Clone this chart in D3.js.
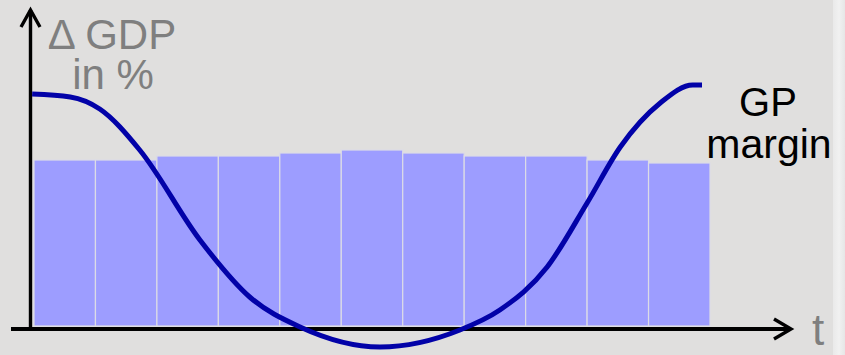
<!DOCTYPE html>
<html>
<head>
<meta charset="utf-8">
<script src="https://cdn.jsdelivr.net/npm/d3@7"></script>
<style>
  html, body { margin: 0; padding: 0; background: #e0dfde; }
  svg { display: block; }
</style>
</head>
<body>
<svg id="chart" width="845" height="355"></svg>
<script>
// Periods along the time axis
const periods = [1, 2, 3, 4, 5, 6, 7, 8, 9, 10, 11];
// Change in GDP per period (%)
const gdpChange = [1.66, 1.66, 1.70, 1.70, 1.73, 1.76, 1.73, 1.70, 1.70, 1.66, 1.63];
// Gross profit margin path: time position and level
const marginT = [-0.03, 0.59, 1.07, 1.72, 2.70, 3.51, 4.33, 5.63, 6.93, 7.58, 8.35, 9.00, 9.54, 10.19, 10.72, 10.87];
const marginV = [2.32, 2.29, 2.17, 1.76, 0.86, 0.29, -0.01, -0.21, -0.04, 0.16, 0.59, 1.23, 1.79, 2.23, 2.41, 2.41];
// Axis captions
const yLabel = ["\u0394 GDP", "in %"];
const xLabel = "t";
const lineLabel = ["GP", "margin"];

const svg = d3.select("#chart");
const W = 845, H = 355;

// Background and lighter border strip on the right
svg.append("rect").attr("width", W).attr("height", H).attr("fill", "#e0dfde");
const defs = svg.append("defs");
const g1 = defs.append("linearGradient").attr("id", "strip").attr("x1", 0).attr("x2", 1);
g1.append("stop").attr("offset", 0).attr("stop-color", "#e9e9e9");
g1.append("stop").attr("offset", 0.5).attr("stop-color", "#f1f1f1");
g1.append("stop").attr("offset", 1).attr("stop-color", "#e6e6e6");
svg.append("rect").attr("x", 833).attr("y", 0).attr("width", 12).attr("height", H)
  .attr("fill", "url(#strip)");

const x = d3.scaleLinear().domain([0, 11]).range([34, 710]);
const band = d3.scaleBand().domain(periods).range([34, 710]).padding(0);
const y = d3.scaleLinear().domain([0, 3]).range([326, 26]);

// GDP bars
svg.append("g").selectAll("rect").data(periods).join("rect")
  .attr("x", d => band(d))
  .attr("y", (d, i) => y(gdpChange[i]))
  .attr("width", band.bandwidth())
  .attr("height", (d, i) => y(0) - y(gdpChange[i]))
  .attr("fill", "#9d9dff")
  .attr("stroke", "#dcdce6")
  .attr("stroke-width", 1.2);

// Axes with open arrowheads
const axisG = svg.append("g").attr("stroke", "#000").attr("fill", "none")
  .attr("stroke-linecap", "butt");
axisG.append("line").attr("x1", 30.5).attr("x2", 30.5).attr("y1", 10).attr("y2", 331)
  .attr("stroke-width", 3.4);
axisG.append("path").attr("d", "M21,27 L30.5,10 L40,27").attr("stroke-width", 3.4)
  .attr("stroke-linejoin", "miter");
axisG.append("line").attr("x1", 11).attr("x2", 791).attr("y1", 329).attr("y2", 329)
  .attr("stroke-width", 4);
axisG.append("path").attr("d", "M774,319 L791,329 L774,339").attr("stroke-width", 3.4)
  .attr("stroke-linejoin", "miter");

// Gross profit margin curve
const line = d3.line()
  .x((d, i) => x(marginT[i]))
  .y((d, i) => y(marginV[i]))
  .curve(d3.curveMonotoneX);
svg.append("path").datum(marginT)
  .attr("d", line)
  .attr("fill", "none")
  .attr("stroke", "#0202a8")
  .attr("stroke-width", 5)
  .attr("stroke-linecap", "butt");

// Labels
const font = "'Liberation Sans', Arial, sans-serif";
svg.append("text").attr("x", 112).attr("y", 49).attr("text-anchor", "middle")
  .attr("font-family", font).attr("font-size", 42).attr("fill", "#7f7f7f").text(yLabel[0]);
svg.append("text").attr("x", 113).attr("y", 89).attr("text-anchor", "middle")
  .attr("font-family", font).attr("font-size", 42).attr("fill", "#7f7f7f").text(yLabel[1]);
svg.append("text").attr("x", 818).attr("y", 345).attr("text-anchor", "middle")
  .attr("font-family", font).attr("font-size", 44).attr("fill", "#7f7f7f").text(xLabel);
svg.append("text").attr("x", 768).attr("y", 116).attr("text-anchor", "middle")
  .attr("font-family", font).attr("font-size", 40).attr("fill", "#000").text(lineLabel[0]);
svg.append("text").attr("x", 769).attr("y", 158).attr("text-anchor", "middle")
  .attr("font-family", font).attr("font-size", 41).attr("fill", "#000").text(lineLabel[1]);
</script>
</body>
</html>
